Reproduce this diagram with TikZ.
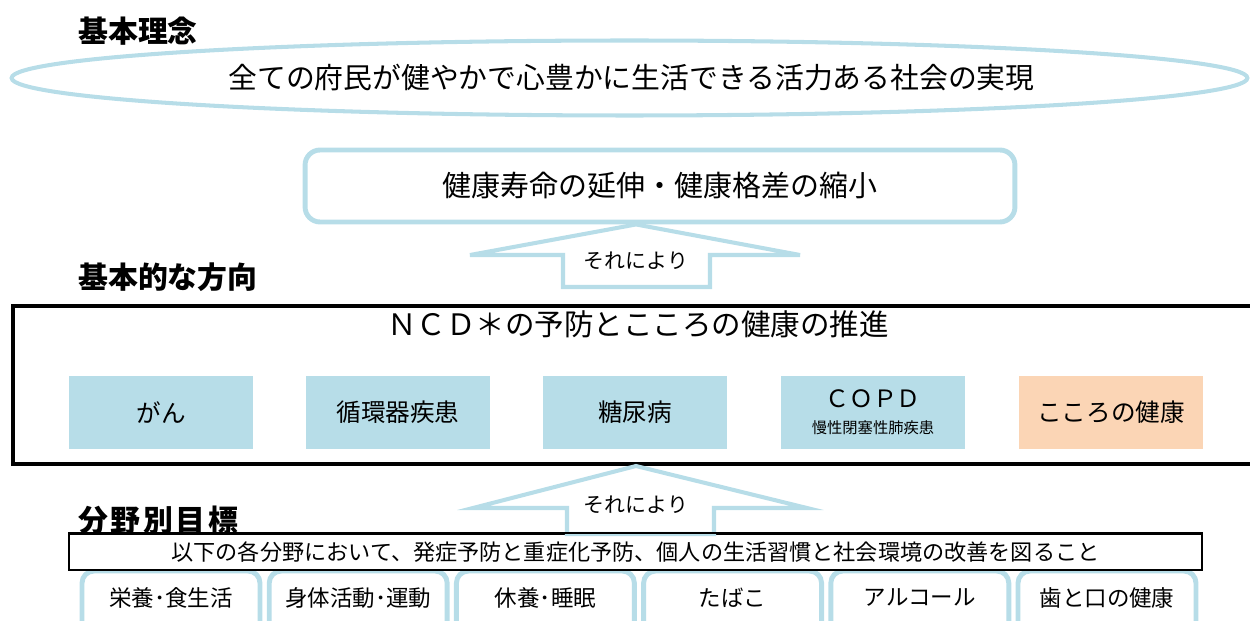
\documentclass[tikz,border=0pt]{standalone}
\usepackage{fontspec}
\setmainfont{Noto Sans CJK JP}
\usetikzlibrary{shapes.geometric}
\definecolor{lb}{RGB}{183,221,232}
\definecolor{pch}{RGB}{251,213,181}
\newcommand{\fs}[1]{\fontsize{#1}{#1}\selectfont}
\begin{document}
\begin{tikzpicture}[x=0.02cm,y=-0.02cm,
  sectitle/.style={anchor=west,inner sep=0,font=\fs{17}\bfseries},
  blockarrow/.style={draw=lb,line width=2.3pt,fill=white,line join=miter},
  arrowtxt/.style={inner sep=0,font=\fs{11.9}},
  ncdbox/.style={fill=lb,minimum width=3.68cm,minimum height=1.46cm,inner sep=0,font=\fs{14}},
  fieldbox/.style={draw=lb,line width=2.8pt,fill=white,rounded corners=0.24cm,minimum width=3.56cm,minimum height=1.78cm,inner sep=0},
  fieldtxt/.style={inner sep=0,font=\fs{12.8}}
]
\useasboundingbox (0,0) rectangle (1250,621);
\clip (0,0) rectangle (1250,621);

% 基本理念
\node[sectitle] (t1) at (78,31) {基本理念};
\node[ellipse,draw=lb,line width=2.3pt,minimum width=24.72cm,minimum height=1.5cm,inner sep=0,font=\fs{16.4}] (vision) at (629.5,78) {\hspace*{0.08cm}全ての府民が健やかで心豊かに生活できる活力ある社会の実現};

% 目標
\coordinate (arr1) at (636,261);
\node[draw=lb,line width=2.8pt,rounded corners=0.3cm,minimum width=14.2cm,minimum height=1.44cm,inner sep=0,font=\fs{16.5}] (goal) at (660,186) {健康寿命の延伸・健康格差の縮小};
\draw[blockarrow] (arr1 |- goal.south) -- (800,255) -- (710,255) -- (710,287) -- (563,287) -- (563,255) -- (470,255) -- cycle;
\node[arrowtxt] (arr1t) at (arr1) {それにより};

% 基本的な方向
\node[sectitle] (t2) at (78,277) {基本的な方向};
\node[draw=black,line width=2.3pt,minimum width=24.98cm,minimum height=3.16cm,inner sep=0] (ncd) at (637.5,385) {};
\node[inner sep=0,font=\fs{16.8}] (ncdt) at (638,324) {ＮＣＤ＊の予防とこころの健康の推進};
\node[ncdbox] (gan) at (161,412.5) {がん};
\node[ncdbox] (junkan) at (398,412.5) {循環器疾患};
\node[ncdbox] (tonyo) at (635,412.5) {糖尿病};
\node[ncdbox,align=center] (copd) at (873,412.5) {\fs{13.6}ＣＯＰＤ\\[1pt]\fs{8.7}慢性閉塞性肺疾患};
\node[ncdbox,fill=pch] (kokoro) at (1111,412.5) {こころの健康};

% 分野別目標
\coordinate (arr2) at (636,505);
\node[sectitle] (t3) at (78,520) {分\kern1.5pt 野\kern1.5pt 別\kern1.5pt 目\kern1.5pt 標};

\node[fieldbox] (f1) at (171,615.5) {};
\node[fieldbox] (f2) at (358.2,615.5) {};
\node[fieldbox] (f3) at (545.4,615.5) {};
\node[fieldbox] (f4) at (732.6,615.5) {};
\node[fieldbox] (f5) at (919.8,615.5) {};
\node[fieldbox] (f6) at (1107,615.5) {};
\node[fieldtxt] at ([yshift=-0.58cm]f1.north) {栄養･食生活};
\node[fieldtxt] at ([yshift=-0.58cm]f2.north) {身体活動･運動};
\node[fieldtxt] at ([yshift=-0.58cm]f3.north) {休養･睡眠};
\node[fieldtxt] at ([yshift=-0.58cm]f4.north) {たばこ};
\node[fieldtxt] at ([yshift=-0.58cm]f5.north) {アルコール};
\node[fieldtxt] at ([yshift=-0.58cm]f6.north) {歯と口の健康};

\node[draw=black,line width=1.1pt,fill=white,minimum width=22.66cm,minimum height=0.72cm,inner sep=0,font=\fs{12.6}] (policy) at (635.5,552) {以下の各分野において、発症予防と重症化予防、個人の生活習慣と社会環境の改善を図ること};

\draw[blockarrow] (arr2 |- ncd.south) -- (807,508) -- (714,508) -- (714,534) -- (567,534) -- (567,508) -- (473,508) -- cycle;
\node[arrowtxt] (arr2t) at (arr2) {それにより};
\draw[draw=black,line width=1.1pt] (policy.north west) -- (policy.north east);
\end{tikzpicture}
\end{document}
